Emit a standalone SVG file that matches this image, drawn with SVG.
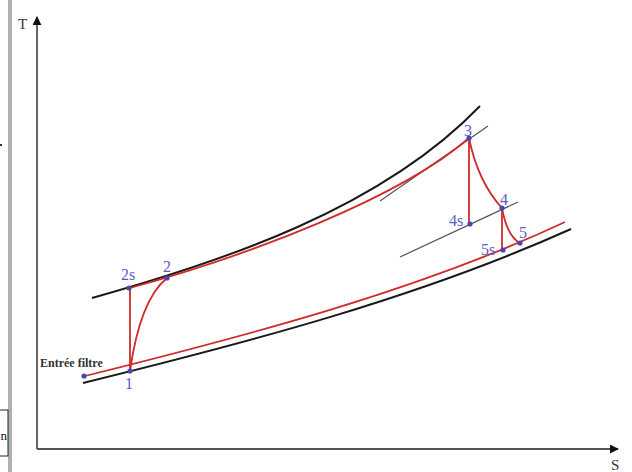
<svg xmlns="http://www.w3.org/2000/svg" width="632" height="472" viewBox="0 0 632 472">
<style>
.ax{stroke:#555;stroke-width:1.8;fill:none}
.blk{stroke:#1a1a1a;stroke-width:2;fill:none}
.red{stroke:#d02a2a;stroke-width:1.8;fill:none}
.gry{stroke:#555;stroke-width:1.2;fill:none}
.pt{fill:#4646b8}
.lbl{font-family:"Liberation Serif",serif;font-size:16px;fill:#5a5ac4}
.ef{font-family:"Liberation Serif",serif;font-size:12px;font-weight:bold;fill:#333}
.axl{font-family:"Liberation Serif",serif;font-size:15px;fill:#333}
</style>
<defs>
<marker id="arr" viewBox="0 0 10 10" refX="9" refY="5" markerWidth="9" markerHeight="9" markerUnits="userSpaceOnUse" orient="auto"><path d="M0,0 L10,5 L0,10 z" fill="#111"/></marker>
</defs>
<rect width="632" height="472" fill="#fff"/>
<g id="frame">
<rect x="8" y="0" width="4" height="472" fill="#b0b0b0"/>
<rect x="0" y="144" width="2" height="2" fill="#333"/>
<rect x="-1" y="410" width="9" height="46" fill="#fff" stroke="#222" stroke-width="1"/>
<text x="0.5" y="440" font-family="Liberation Serif, serif" font-size="13" fill="#111">n</text>
</g>
<g id="axes">
<line class="ax" x1="37" y1="449" x2="37" y2="17" marker-end="url(#arr)"/>
<line class="ax" x1="37" y1="449" x2="618" y2="449" marker-end="url(#arr)"/>
<text class="axl" x="18" y="29">T</text>
<text class="axl" x="611" y="470">S</text>
</g>
<g id="connectors">
<path id="upper-black" class="blk" d="M92,298 C220,262 380,210 480,106"/>
<path id="lower-black" class="blk" d="M83,383 C250,342 420,297 571,229"/>
<line class="gry" x1="380" y1="201" x2="488" y2="126"/>
<line class="gry" x1="400" y1="257" x2="518" y2="202"/>
<path id="upper-red" class="red" d="M130,288 C250,255 400,198 469,138"/>
<path id="lower-red" class="red" d="M85,376 C250,335 420,290 565,222"/>
<line class="red" x1="130" y1="288" x2="130" y2="371"/>
<path class="red" d="M130,371 Q140,300 167,278"/>
<line class="red" x1="469" y1="138" x2="469" y2="224"/>
<path class="red" d="M469,138 Q478,182 502,208"/>
<line class="red" x1="502" y1="208" x2="502" y2="250"/>
<path class="red" d="M502,208 Q507,236 520,243"/>
</g>
<g id="node-entree"><circle class="pt" cx="84" cy="376" r="2.6"/><text class="ef" x="40" y="367">Entrée filtre</text></g>
<g id="node-1"><circle class="pt" cx="130" cy="371" r="2.6"/><text class="lbl" x="125" y="389">1</text></g>
<g id="node-2s"><circle class="pt" cx="129" cy="288" r="2.6"/><text class="lbl" x="121" y="280">2s</text></g>
<g id="node-2"><circle class="pt" cx="167" cy="278" r="2.6"/><text class="lbl" x="163" y="272">2</text></g>
<g id="node-3"><circle class="pt" cx="469" cy="138" r="2.6"/><text class="lbl" x="464" y="136">3</text></g>
<g id="node-4s"><circle class="pt" cx="470" cy="224" r="2.6"/><text class="lbl" x="449" y="226">4s</text></g>
<g id="node-4"><circle class="pt" cx="502" cy="208" r="2.6"/><text class="lbl" x="500" y="205">4</text></g>
<g id="node-5s"><circle class="pt" cx="503" cy="250" r="2.6"/><text class="lbl" x="481" y="255">5s</text></g>
<g id="node-5"><circle class="pt" cx="520" cy="243" r="2.6"/><text class="lbl" x="519" y="238">5</text></g>
</svg>
